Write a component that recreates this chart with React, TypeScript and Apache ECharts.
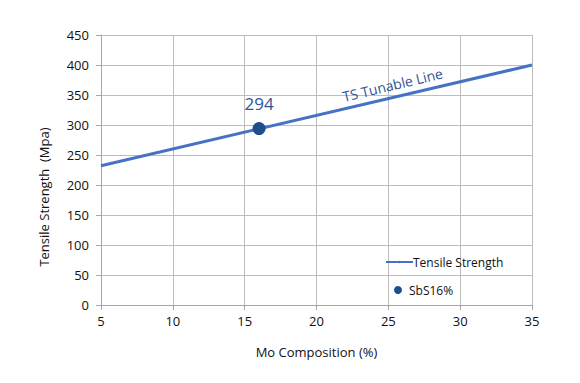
import React, { useEffect, useRef } from "react";
import * as echarts from "echarts";

const lineX = [5, 35];
const lineY = [232, 400];
const pointX = [16];
const pointY = [294];
const pointLabel = "294";
const lineNote = "TS Tunable Line";
const noteCoord = [25.3, 367];
const xTicks = { min: 5, max: 35, interval: 5 };
const yTicks = { min: 0, max: 450, interval: 50 };

const FONT = "'Open Sans', 'Noto Sans', sans-serif";
const TXT = "#111";

export default function App() {
  const ref = useRef<HTMLDivElement>(null);
  useEffect(() => {
    const chart = echarts.init(ref.current!, null, { renderer: "svg" });
    chart.setOption({
      animation: false,
      backgroundColor: "#ffffff",
      textStyle: { fontFamily: FONT },
      grid: { left: 101, right: 48, top: 35, bottom: 78 },
      xAxis: {
        type: "value",
        min: xTicks.min,
        max: xTicks.max,
        interval: xTicks.interval,
        name: "Mo Composition (%)",
        nameLocation: "middle",
        nameGap: 40,
        nameTextStyle: { fontSize: 13, color: TXT, fontFamily: FONT },
        axisLine: { show: true, lineStyle: { color: "#a6a6a6", width: 1 } },
        axisTick: { show: true, length: 5, lineStyle: { color: "#a6a6a6" } },
        axisLabel: { fontSize: 13, color: TXT, margin: 9, fontFamily: FONT },
        splitLine: { show: true, lineStyle: { color: "#bdbdbd", width: 1 } },
      },
      yAxis: {
        type: "value",
        min: yTicks.min,
        max: yTicks.max,
        interval: yTicks.interval,
        axisLine: { show: true, lineStyle: { color: "#a6a6a6", width: 1 } },
        axisTick: { show: true, length: 5, lineStyle: { color: "#a6a6a6" } },
        axisLabel: { fontSize: 13, color: TXT, margin: 12, fontFamily: FONT },
        splitLine: { show: true, lineStyle: { color: "#bdbdbd", width: 1 } },
      },
      graphic: [
        {
          type: "text",
          x: 44,
          y: 197,
          rotation: Math.PI / 2,
          style: {
            text: "Tensile Strength  (Mpa)",
            fontSize: 13,
            fill: TXT,
            fontFamily: FONT,
            align: "center",
            verticalAlign: "middle",
          },
        },
      ],
      legend: [
        {
          data: ["Tensile Strength"],
          orient: "vertical",
          left: 380,
          top: 251,
          itemWidth: 27,
          itemHeight: 3,
          itemGap: 2,
          textStyle: { fontSize: 12, color: TXT, fontFamily: FONT, padding: [0, 0, 0, -5] },
        },
        {
          data: [{ name: "SbS16%", icon: "circle" }],
          orient: "vertical",
          left: 389,
          top: 279,
          itemWidth: 8,
          itemHeight: 8,
          textStyle: { fontSize: 12, color: TXT, fontFamily: FONT, padding: [0, 0, 0, 2] },
        },
      ],
      series: [
        {
          name: "Tensile Strength",
          type: "line",
          data: lineX.map((x, i) => [x, lineY[i]]),
          symbol: "none",
          lineStyle: { color: "#4472c4", width: 3 },
          itemStyle: { color: "#4472c4" },
          z: 2,
          markPoint: {
            symbol: "circle",
            symbolSize: 0,
            data: [{ coord: noteCoord, value: lineNote }],
            label: {
              show: true,
              formatter: lineNote,
              rotate: 13.5,
              fontSize: 14,
              color: "#2f5597",
              fontFamily: FONT,
              position: "inside",
            },
          },
        },
        {
          name: "SbS16%",
          type: "scatter",
          data: pointX.map((x, i) => [x, pointY[i]]),
          symbol: "circle",
          symbolSize: 13,
          itemStyle: { color: "#1f4e8c", opacity: 1 },
          z: 3,
          label: {
            show: true,
            position: "top",
            distance: 10,
            formatter: pointLabel,
            fontSize: 17,
            color: "#2f5597",
            fontFamily: FONT,
          },
        },
      ],
    });
    return () => chart.dispose();
  }, []);
  return (
    <div
      ref={ref}
      style={{ position: "absolute", left: 0, top: 0, width: 580, height: 383 }}
    />
  );
}
